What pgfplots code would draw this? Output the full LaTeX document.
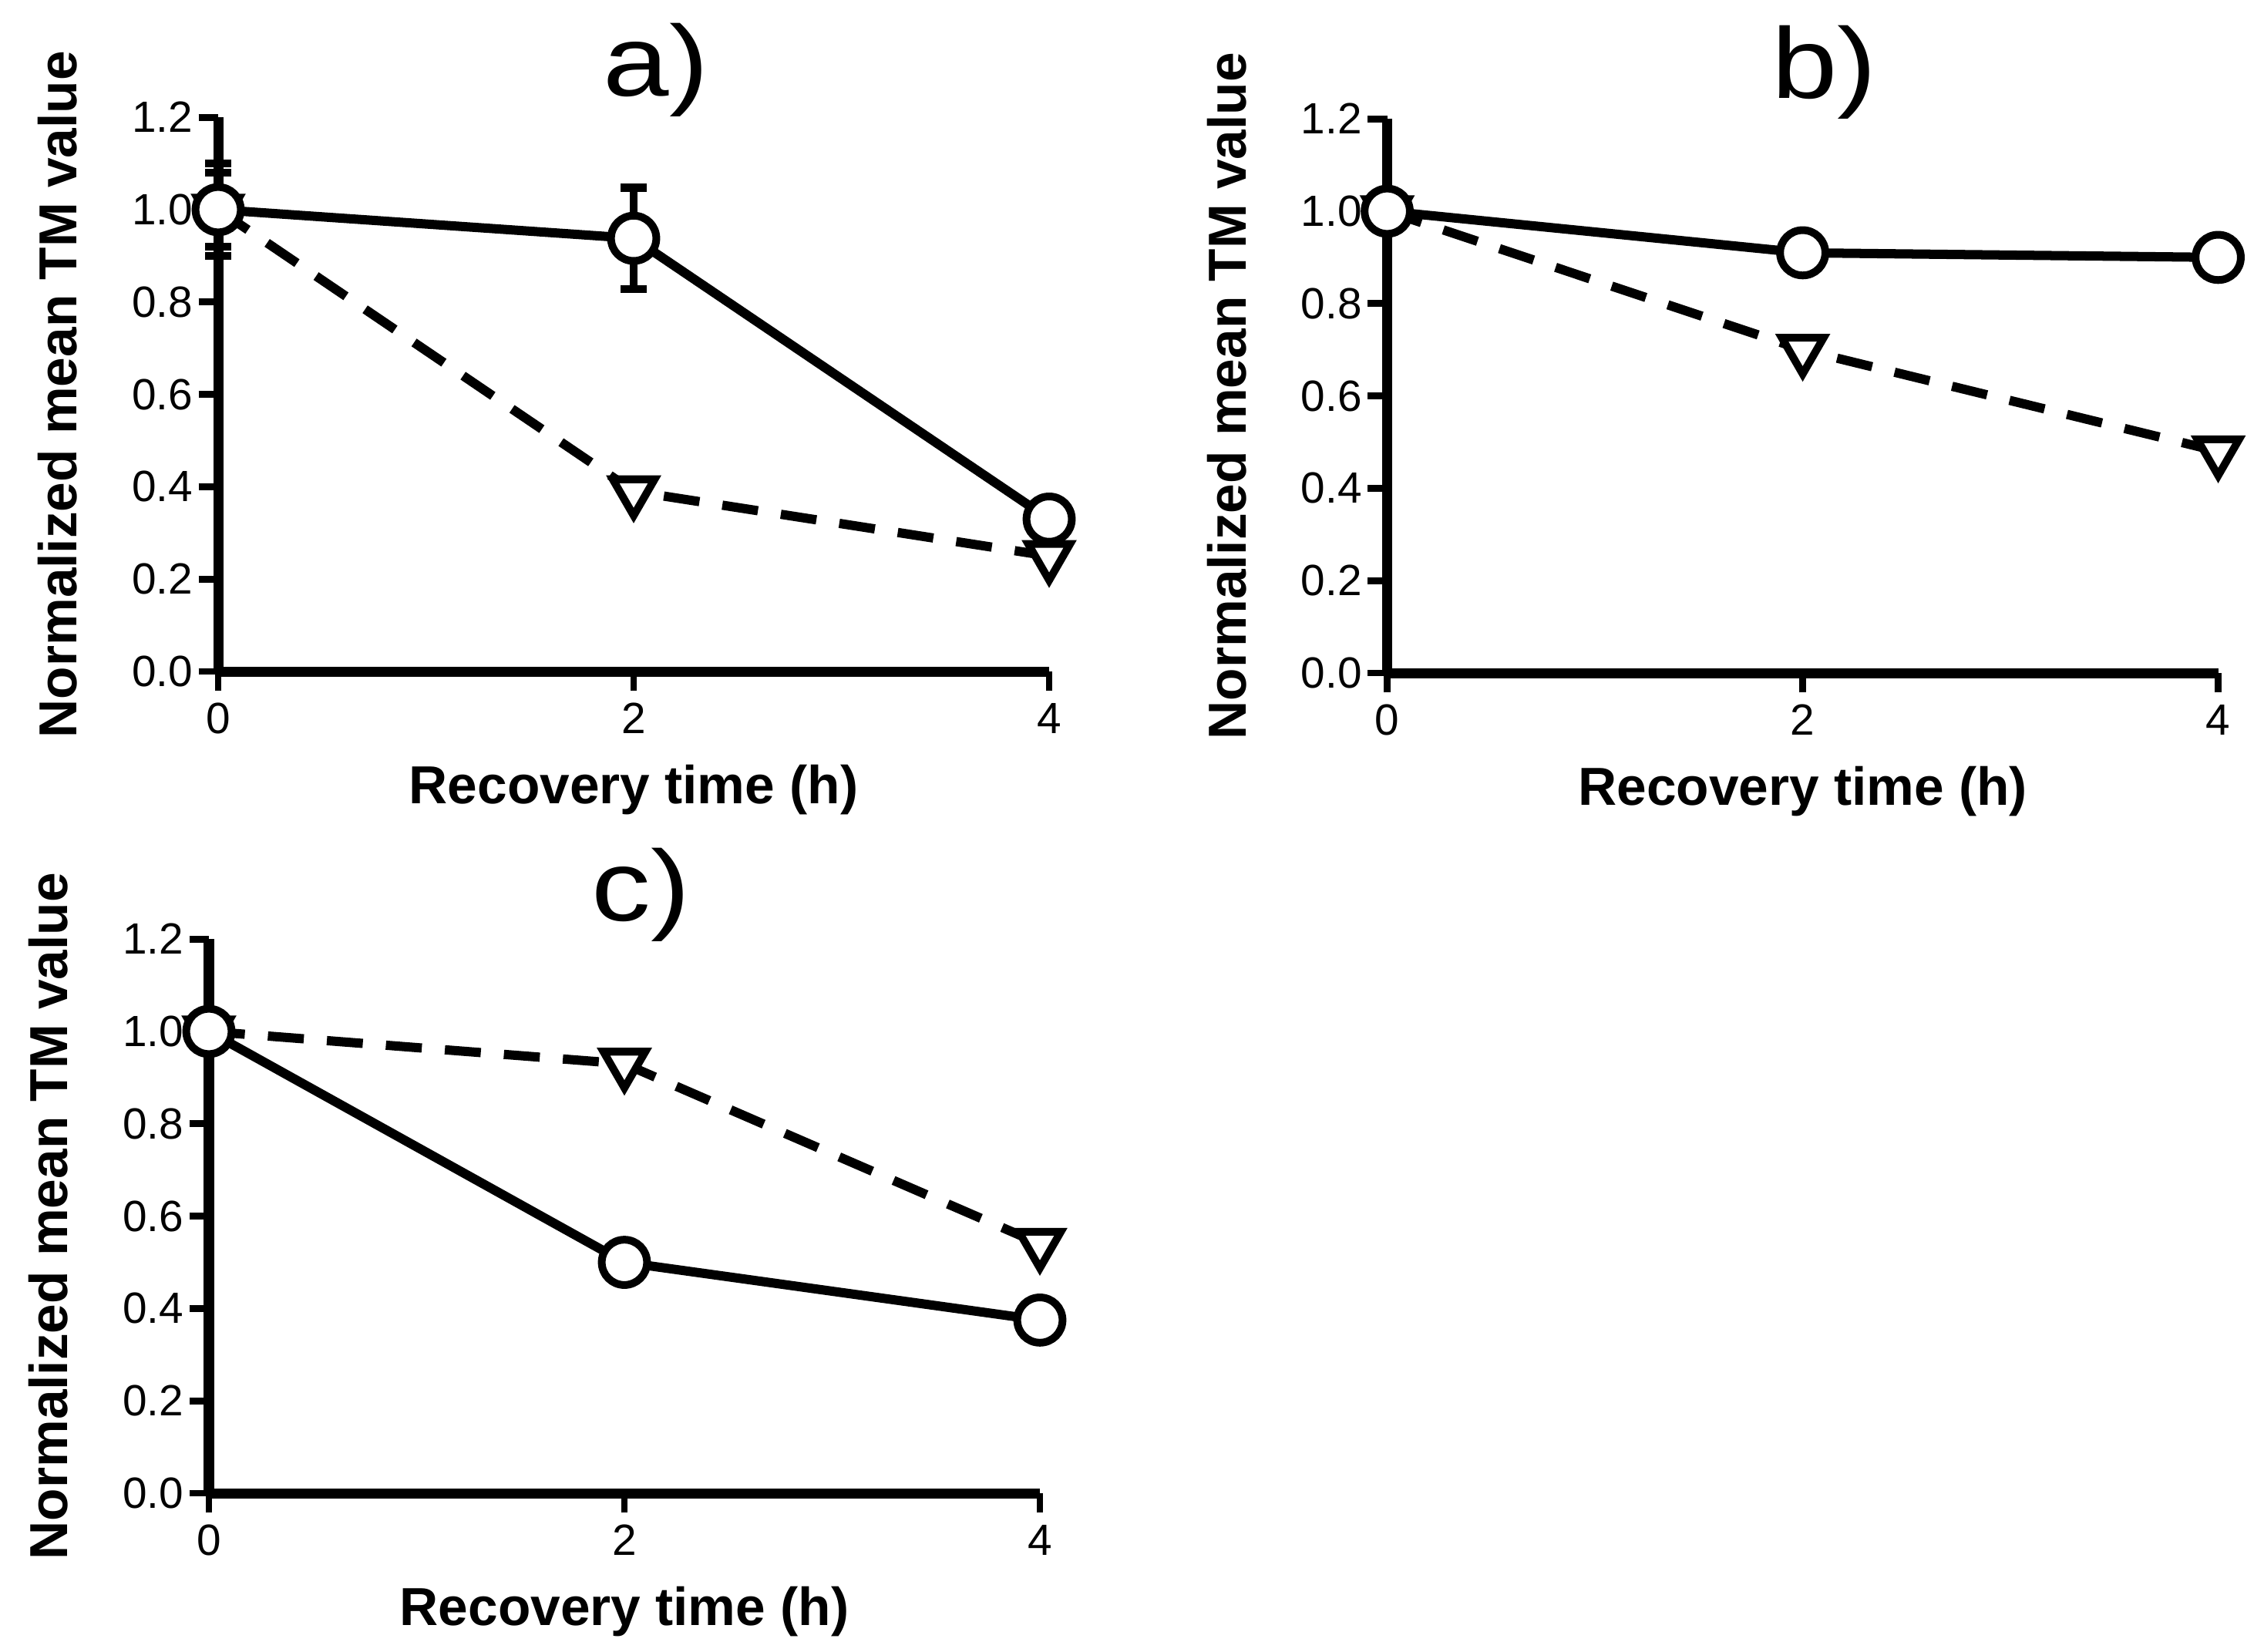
\documentclass[border=0pt]{standalone}
\usepackage{fontspec}
\setmainfont{Liberation Sans}
\newfontfamily\titlefont[FakeStretch=1.18]{Liberation Sans}
\usepackage{pgfplots}
\pgfplotsset{compat=1.18}

\pgfplotsset{
  tmpanel/.style={
    width=161.5pt, height=107.7pt, scale only axis,
    xmin=0, xmax=4, ymin=0, ymax=1.2,
    xtick={0,2,4}, ytick={0,0.2,0.4,0.6,0.8,1.0,1.2},
    axis x line*=bottom, axis y line*=left,
    axis line style={line width=1.95pt, -},
    tick align=outside, major tick length=3.8pt,
    every tick/.style={line width=1.3pt, black},
    tick label style={font=\fontsize{8.5}{10}\selectfont},
    yticklabel style={xshift=2.4pt, /pgf/number format/fixed, /pgf/number format/fixed zerofill,
      /pgf/number format/precision=1, /pgf/number format/assume math mode=true},
    xticklabel style={yshift=1.2pt, /pgf/number format/assume math mode=true},
    xlabel={Recovery time (h)}, ylabel={Normalized mean TM value},
    label style={font=\fontsize{10.4}{12}\selectfont\bfseries},
    xlabel style={at={(axis description cs:0.5,-0.214)}, anchor=center},
    ylabel style={at={(axis description cs:-0.193,0.5)}, anchor=center},
    clip=false,
  },
  circ/.style={black, line width=1.8pt, mark=*, mark size=4.4pt,
    mark options={solid, fill=white, draw=black, line width=1.5pt}},
  tri/.style={black, line width=1.8pt, dash pattern=on 7pt off 4.5pt,
    mark=triangle*, mark size=4.7pt,
    mark options={solid, rotate=180, fill=white, draw=black, line width=1.5pt}},
  ebar/.style={error bars/.cd, y dir=both, y explicit, error mark=-,
    error bar style={line width=1.5pt, solid},
    error mark options={rotate=90, line width=1.6pt, mark size=2.5pt, black, solid}},
}
\tikzset{ptitle/.style={font=\titlefont\fontsize{19.5}{22}\selectfont, anchor=base}}

\begin{document}
\begin{tikzpicture}
\useasboundingbox (-42.4pt,-190.5pt) rectangle (397.6pt,130.5pt);

% a)
\begin{axis}[tmpanel, at={(0pt,0pt)}, anchor=south west]
  \addplot[tri, ebar] coordinates {(0,1.0) +- (0,0.08) (2,0.39) +- (0,0) (4,0.25) +- (0,0)};
  \addplot[circ, ebar] coordinates {(0,1.0) +- (0,0.10) (2,0.938) +- (0,0.11) (4,0.33) +- (0,0)};
  \node[ptitle, yshift=4.2pt] at (rel axis cs:0.527,1) {a)};
\end{axis}

% b)
\begin{axis}[tmpanel, at={(227.2pt,-0.3pt)}, anchor=south west]
  \addplot[tri] coordinates {(0,1.0) (2,0.70) (4,0.48)};
  \addplot[circ] coordinates {(0,1.0) (2,0.91) (4,0.90)};
  \node[ptitle, yshift=4pt] at (rel axis cs:0.526,1) {b)};
\end{axis}

% c)
\begin{axis}[tmpanel, at={(-1.8pt,-159.7pt)}, anchor=south west]
  \addplot[tri] coordinates {(0,1.0) (2,0.93) (4,0.54)};
  \addplot[circ] coordinates {(0,1.0) (2,0.50) (4,0.375)};
  \node[ptitle, yshift=3.6pt] at (rel axis cs:0.52,1) {c)};
\end{axis}
\end{tikzpicture}
\end{document}
